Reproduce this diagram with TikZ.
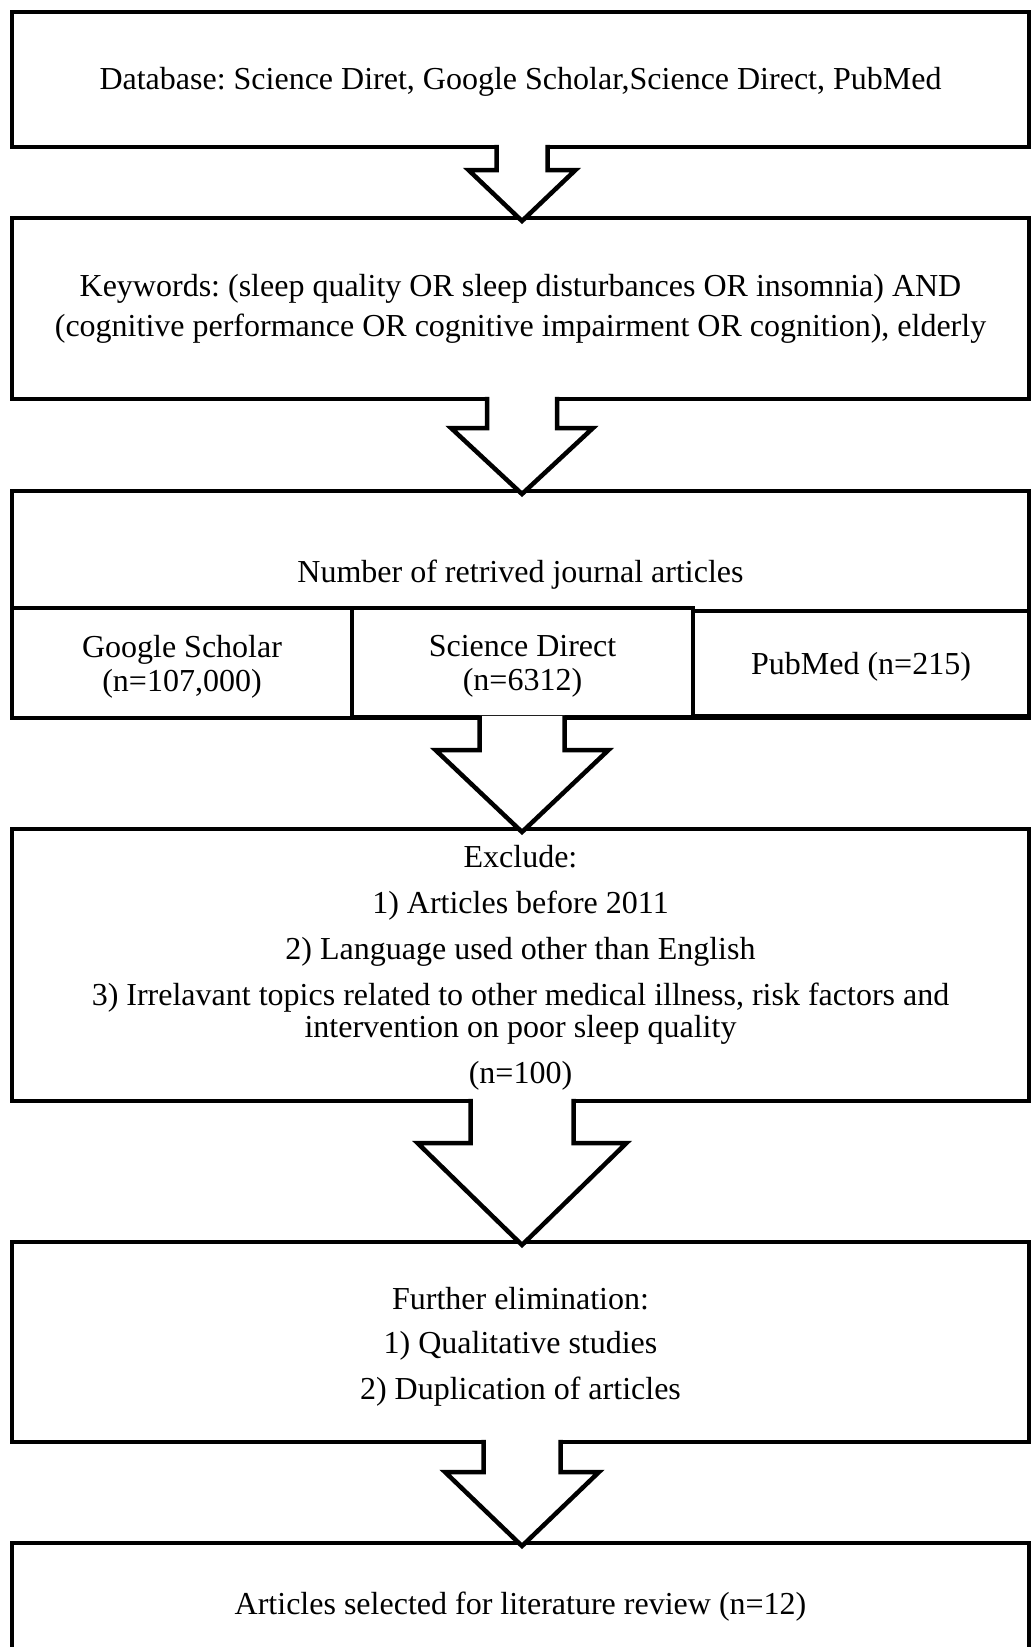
\documentclass[tikz,border=0pt]{standalone}
\usepackage{fontspec}
\setmainfont{Liberation Serif}
\usetikzlibrary{calc}
\tikzset{
  box/.style={draw=black, line width=4.5pt, fill=white, inner sep=0pt, outer sep=0pt,
    line join=miter},
  cell/.style={draw=black, line width=4pt, inner sep=0pt, outer sep=0pt},
  txt/.style={inner sep=0pt, outer sep=0pt, align=center,
    font=\fontsize{32}{32}\selectfont\frenchspacing},
  barrow/.style={draw=black, fill=white, line width=4.5pt, line join=miter},
}
% #1 from node, #2 to node, #3 shaft half width, #4 head half width, #5 head base y (px from top)
\newcommand{\blockarrow}[5]{%
  \path[barrow] let \p1=(#1.south), \p2=(#2.north) in
    (\x1+1.5pt-#3pt, \y1+2.25pt) -- (\x1+1.5pt-#3pt, -#5pt) -- (\x1+1.5pt-#4pt, -#5pt)
    -- (\x1+1.5pt, \y2-3pt) -- (\x1+1.5pt+#4pt, -#5pt) -- (\x1+1.5pt+#3pt, -#5pt)
    -- (\x1+1.5pt+#3pt, \y1+2.25pt);
}
\begin{document}
\begin{tikzpicture}[x=1pt, y=-1pt]
\useasboundingbox (0,0) rectangle (1033,1647);
\fill[white] (0,0) rectangle (1033,1647);
\clip (0,0) rectangle (1033,1647);

% boxes
\node[box, minimum width=1017pt, minimum height=135pt] (b1) at (520.5,79.5) {};
\node[box, minimum width=1017pt, minimum height=181pt] (b2) at (520.5,308.5) {};
\node[box, minimum width=1017pt, minimum height=227pt] (b3) at (520.5,604.5) {};
\node[cell, minimum width=340pt, minimum height=110pt] (c1) at (182,663) {};
\node[cell, minimum width=336pt, minimum height=105pt] (c3) at (861,663.5) {};
\node[cell, minimum width=341pt, minimum height=109pt] (c2) at (522.5,662.5) {};
\node[box, minimum width=1017pt, minimum height=272pt] (b4) at (520.5,965) {};
\node[box, minimum width=1017pt, minimum height=200pt] (b5) at (520.5,1342) {};
\node[box, minimum width=1017pt, minimum height=120pt] (b6) at (520.5,1603) {};

% texts
\node[txt] (t1) at (520.5,81.5)
  {Database: Science Diret, Google Scholar,Science Direct, PubMed};
\node[txt] (t2) at (520.5,309)
  {Keywords: (sleep quality OR sleep disturbances OR insomnia) AND\\[8pt]
   (cognitive performance OR cognitive impairment OR cognition), elderly};
\node[txt, anchor=base] (t3) at (520.5,582) {Number of retrived journal articles};
\node[txt] (tc1) at (182,667) {Google Scholar\\[2pt](n=107,000)};
\node[txt] (tc2) at (522.5,666.5) {Science Direct\\[2pt](n=6312)};
\node[txt] (tc3) at (861,667) {PubMed (n=215)};
\node[txt] (t4) at (520.5,967.5)
  {Exclude:\\[14pt]
   1) Articles before 2011\\[14pt]
   2) Language used other than English\\[14pt]
   3) Irrelavant topics related to other medical illness, risk factors and\\
   intervention on poor sleep quality\\[14pt]
   (n=100)};
\node[txt] (t5) at (520.5,1347)
  {Further elimination:\\[12pt]
   1) Qualitative studies\\[14pt]
   2) Duplication of articles};
\node[txt] (t6) at (520.5,1607)
  {Articles selected for literature review (n=12)};

% block arrows
\blockarrow{b1}{b2}{25.5}{53.5}{170}
\blockarrow{b2}{b3}{35}{71}{428}
\blockarrow{b3}{b4}{42.5}{86.5}{750}
\blockarrow{b4}{b5}{51.5}{104.5}{1143}
\blockarrow{b5}{b6}{38.5}{77}{1472}
\end{tikzpicture}
\end{document}
